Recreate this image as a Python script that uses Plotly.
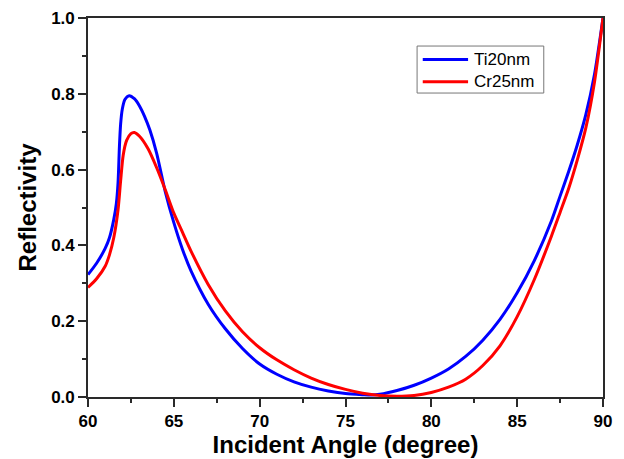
import plotly.graph_objects as go

angle_ti = [60.0, 60.5, 61.0, 61.25, 61.5, 61.65, 61.75, 61.83, 61.9, 62.0, 62.15, 62.4, 62.7,
            63.0, 63.3, 63.6, 64.0, 64.5, 65.0, 65.5, 66.0, 67.0, 68.0, 69.0, 70.0, 71.0, 72.0,
            73.0, 74.0, 75.0, 76.0, 76.5, 77.0, 78.0, 79.0, 80.0, 81.0, 82.0, 83.0, 84.0, 85.0,
            86.0, 87.0, 87.5, 88.0, 88.5, 89.0, 89.5, 90.0]
refl_ti = [0.323, 0.353, 0.392, 0.42, 0.468, 0.51, 0.565, 0.66, 0.72, 0.76, 0.785, 0.795, 0.787,
           0.768, 0.74, 0.705, 0.643, 0.542, 0.46, 0.39, 0.333, 0.245, 0.18, 0.128, 0.087, 0.06, 0.04,
           0.026, 0.016, 0.009, 0.006, 0.005, 0.007, 0.017, 0.031, 0.05, 0.074, 0.107, 0.15, 0.205, 0.275,
           0.36, 0.465, 0.53, 0.595, 0.665, 0.745, 0.85, 1.0]

angle_cr = [60.0, 60.5, 61.0, 61.25, 61.5, 61.75, 61.9, 62.05, 62.25, 62.5, 62.7, 63.0, 63.5,
            64.0, 64.5, 65.0, 65.5, 66.0, 67.0, 68.0, 69.0, 70.0, 71.0, 72.0, 73.0, 74.0, 75.0,
            76.0, 77.0, 78.0, 79.0, 80.0, 81.0, 82.0, 83.0, 84.0, 85.0, 86.0, 87.0, 87.5,
            88.0, 88.5, 89.0, 89.5, 90.0]
refl_cr = [0.289, 0.312, 0.345, 0.375, 0.42, 0.494, 0.57, 0.638, 0.677, 0.695, 0.698, 0.688, 0.655,
           0.605, 0.547, 0.485, 0.435, 0.385, 0.297, 0.227, 0.172, 0.13, 0.098, 0.072, 0.05, 0.033, 0.02,
           0.01, 0.004, 0.002, 0.004, 0.012, 0.026, 0.047, 0.083, 0.135, 0.212, 0.31, 0.425, 0.487,
           0.55, 0.625, 0.71, 0.83, 1.0]

series_names = ["Ti20nm", "Cr25nm"]
series_colors = ["#0000FF", "#FF0000"]

x_ticks = [60, 65, 70, 75, 80, 85, 90]
y_ticks = [0.0, 0.2, 0.4, 0.6, 0.8, 1.0]

font_family = "Liberation Sans, Arial, sans-serif"
axis_color = "#2a2a2a"

fig = go.Figure()
for xs, ys, name, color in [(angle_ti, refl_ti, series_names[0], series_colors[0]),
                            (angle_cr, refl_cr, series_names[1], series_colors[1])]:
    fig.add_trace(go.Scatter(x=xs, y=ys, mode="lines", name=name, showlegend=False,
                             line=dict(color=color, width=3, shape="spline", smoothing=0.7)))

# legend box drawn in plot-area (paper) coordinates
shapes = [dict(type="rect", xref="paper", yref="paper", x0=0.639, x1=0.885, y0=0.802, y1=0.926,
               line=dict(color="#777777", width=1), fillcolor="white", layer="above")]
annotations = []
legend_rows_y = [0.8905, 0.832]
for name, color, yy in zip(series_names, series_colors, legend_rows_y):
    shapes.append(dict(type="line", xref="paper", yref="paper", x0=0.650, x1=0.738, y0=yy, y1=yy,
                       line=dict(color=color, width=3), layer="above"))
    annotations.append(dict(xref="paper", yref="paper", x=0.7456, y=yy, text=name, showarrow=False,
                            xanchor="left", yanchor="middle",
                            font=dict(family=font_family, size=17, color="black")))

axis_common = dict(showline=True, linecolor=axis_color, linewidth=1.6, mirror=True,
                   ticks="outside", ticklen=8, tickwidth=1.6, tickcolor=axis_color,
                   showgrid=False, zeroline=False, automargin=False,
                   tickfont=dict(family=font_family, size=17, color="black", weight="bold"))

fig.update_layout(
    width=624, height=459,
    margin=dict(l=88, r=21, t=18, b=62),
    paper_bgcolor="white", plot_bgcolor="white",
    showlegend=False,
    shapes=shapes, annotations=annotations,
    xaxis=dict(range=[60, 90], tickvals=x_ticks, ticktext=[str(v) for v in x_ticks],
               minor=dict(ticks="outside", ticklen=4, tickwidth=1.6, tickcolor=axis_color, dtick=2.5),
               title=dict(text="Incident Angle (degree)", standoff=3,
                          font=dict(family=font_family, size=24, color="black", weight="bold")),
               **axis_common),
    yaxis=dict(range=[0, 1.0], tickvals=y_ticks, ticktext=[f"{v:.1f}" for v in y_ticks],
               minor=dict(ticks="outside", ticklen=4, tickwidth=1.6, tickcolor=axis_color, dtick=0.1),
               title=dict(text="Reflectivity", standoff=8,
                          font=dict(family=font_family, size=24, color="black", weight="bold")),
               **axis_common),
)

fig.write_html("out.html", config={"displayModeBar": False},
               post_script="document.body.style.margin='0';")
